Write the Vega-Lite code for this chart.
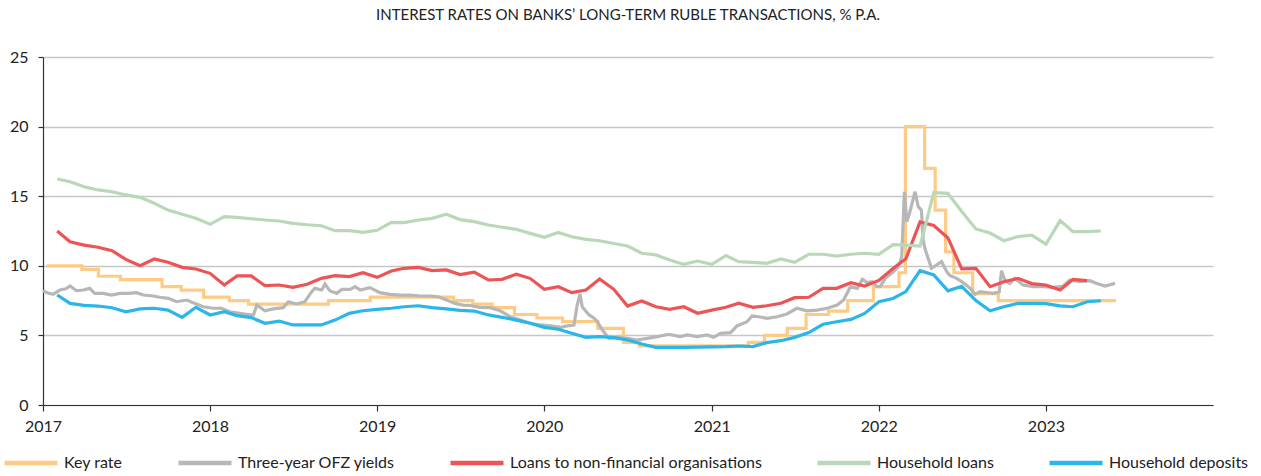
{
  "$schema": "https://vega.github.io/schema/vega-lite/v6.json",
  "autosize": {"type": "none"},
  "width": 1170,
  "height": 348,
  "padding": {"left": 43, "top": 57, "right": 48, "bottom": 71},
  "background": "white",
  "config": {
    "view": {"stroke": null},
    "font": "Lato",
    "axis": {"labelFont": "Lato", "labelColor": "#222222", "labelFontSize": 16, "domainColor": "#333333", "tickColor": "#333333", "domainWidth": 1.2, "tickWidth": 1.2},
    "legend": {"labelFont": "Lato", "labelFontSize": 16, "labelColor": "#222222", "labelLimit": 600}
  },
  "title": {"text": "INTEREST RATES ON BANKS’ LONG-TERM RUBLE TRANSACTIONS, % P.A.", "fontSize": 15, "fontWeight": "normal", "color": "#222222", "anchor": "middle", "offset": 26, "font": "Lato"},
  "datasets": {
    "key": [
      {"s": "Key rate", "d": "2017-01-09", "v": 10.0},
      {"s": "Key rate", "d": "2017-03-27", "v": 9.75},
      {"s": "Key rate", "d": "2017-05-02", "v": 9.25},
      {"s": "Key rate", "d": "2017-06-19", "v": 9.0},
      {"s": "Key rate", "d": "2017-09-18", "v": 8.5},
      {"s": "Key rate", "d": "2017-10-30", "v": 8.25},
      {"s": "Key rate", "d": "2017-12-18", "v": 7.75},
      {"s": "Key rate", "d": "2018-02-12", "v": 7.5},
      {"s": "Key rate", "d": "2018-03-26", "v": 7.25},
      {"s": "Key rate", "d": "2018-09-17", "v": 7.5},
      {"s": "Key rate", "d": "2018-12-17", "v": 7.75},
      {"s": "Key rate", "d": "2019-06-17", "v": 7.5},
      {"s": "Key rate", "d": "2019-07-29", "v": 7.25},
      {"s": "Key rate", "d": "2019-09-09", "v": 7.0},
      {"s": "Key rate", "d": "2019-10-28", "v": 6.5},
      {"s": "Key rate", "d": "2019-12-16", "v": 6.25},
      {"s": "Key rate", "d": "2020-02-10", "v": 6.0},
      {"s": "Key rate", "d": "2020-04-27", "v": 5.5},
      {"s": "Key rate", "d": "2020-06-22", "v": 4.5},
      {"s": "Key rate", "d": "2020-07-27", "v": 4.25},
      {"s": "Key rate", "d": "2021-03-22", "v": 4.5},
      {"s": "Key rate", "d": "2021-04-26", "v": 5.0},
      {"s": "Key rate", "d": "2021-06-15", "v": 5.5},
      {"s": "Key rate", "d": "2021-07-26", "v": 6.5},
      {"s": "Key rate", "d": "2021-09-13", "v": 6.75},
      {"s": "Key rate", "d": "2021-10-25", "v": 7.5},
      {"s": "Key rate", "d": "2021-12-20", "v": 8.5},
      {"s": "Key rate", "d": "2022-02-14", "v": 9.5},
      {"s": "Key rate", "d": "2022-02-28", "v": 20.0},
      {"s": "Key rate", "d": "2022-04-11", "v": 17.0},
      {"s": "Key rate", "d": "2022-05-04", "v": 14.0},
      {"s": "Key rate", "d": "2022-05-27", "v": 11.0},
      {"s": "Key rate", "d": "2022-06-14", "v": 9.5},
      {"s": "Key rate", "d": "2022-07-25", "v": 8.0},
      {"s": "Key rate", "d": "2022-09-19", "v": 7.5},
      {"s": "Key rate", "d": "2023-06-03", "v": 7.5}
    ],
    "ofz": [
      {"s": "Three-year OFZ yields", "d": "2017-01-01", "v": 8.19},
      {"s": "Three-year OFZ yields", "d": "2017-01-12", "v": 8.05},
      {"s": "Three-year OFZ yields", "d": "2017-01-23", "v": 7.95},
      {"s": "Three-year OFZ yields", "d": "2017-02-07", "v": 8.26},
      {"s": "Three-year OFZ yields", "d": "2017-02-20", "v": 8.35},
      {"s": "Three-year OFZ yields", "d": "2017-03-01", "v": 8.55},
      {"s": "Three-year OFZ yields", "d": "2017-03-15", "v": 8.21},
      {"s": "Three-year OFZ yields", "d": "2017-03-30", "v": 8.26},
      {"s": "Three-year OFZ yields", "d": "2017-04-13", "v": 8.38},
      {"s": "Three-year OFZ yields", "d": "2017-04-24", "v": 8.02},
      {"s": "Three-year OFZ yields", "d": "2017-05-12", "v": 8.02},
      {"s": "Three-year OFZ yields", "d": "2017-05-31", "v": 7.9},
      {"s": "Three-year OFZ yields", "d": "2017-06-18", "v": 8.02},
      {"s": "Three-year OFZ yields", "d": "2017-07-06", "v": 8.02},
      {"s": "Three-year OFZ yields", "d": "2017-07-24", "v": 8.07},
      {"s": "Three-year OFZ yields", "d": "2017-08-08", "v": 7.9},
      {"s": "Three-year OFZ yields", "d": "2017-08-30", "v": 7.83},
      {"s": "Three-year OFZ yields", "d": "2017-09-13", "v": 7.74},
      {"s": "Three-year OFZ yields", "d": "2017-10-02", "v": 7.66},
      {"s": "Three-year OFZ yields", "d": "2017-10-20", "v": 7.42},
      {"s": "Three-year OFZ yields", "d": "2017-11-11", "v": 7.54},
      {"s": "Three-year OFZ yields", "d": "2017-11-25", "v": 7.35},
      {"s": "Three-year OFZ yields", "d": "2017-12-17", "v": 7.06},
      {"s": "Three-year OFZ yields", "d": "2018-01-08", "v": 6.95},
      {"s": "Three-year OFZ yields", "d": "2018-01-26", "v": 6.95},
      {"s": "Three-year OFZ yields", "d": "2018-02-13", "v": 6.7},
      {"s": "Three-year OFZ yields", "d": "2018-03-07", "v": 6.58},
      {"s": "Three-year OFZ yields", "d": "2018-03-29", "v": 6.47},
      {"s": "Three-year OFZ yields", "d": "2018-04-06", "v": 6.47},
      {"s": "Three-year OFZ yields", "d": "2018-04-13", "v": 7.18},
      {"s": "Three-year OFZ yields", "d": "2018-05-01", "v": 6.77},
      {"s": "Three-year OFZ yields", "d": "2018-05-19", "v": 6.9},
      {"s": "Three-year OFZ yields", "d": "2018-06-10", "v": 6.99},
      {"s": "Three-year OFZ yields", "d": "2018-06-21", "v": 7.42},
      {"s": "Three-year OFZ yields", "d": "2018-07-09", "v": 7.26},
      {"s": "Three-year OFZ yields", "d": "2018-07-27", "v": 7.42},
      {"s": "Three-year OFZ yields", "d": "2018-08-11", "v": 8.14},
      {"s": "Three-year OFZ yields", "d": "2018-08-18", "v": 8.38},
      {"s": "Three-year OFZ yields", "d": "2018-09-02", "v": 8.26},
      {"s": "Three-year OFZ yields", "d": "2018-09-09", "v": 8.69},
      {"s": "Three-year OFZ yields", "d": "2018-09-20", "v": 8.19},
      {"s": "Three-year OFZ yields", "d": "2018-10-05", "v": 8.02},
      {"s": "Three-year OFZ yields", "d": "2018-10-16", "v": 8.31},
      {"s": "Three-year OFZ yields", "d": "2018-11-03", "v": 8.31},
      {"s": "Three-year OFZ yields", "d": "2018-11-14", "v": 8.5},
      {"s": "Three-year OFZ yields", "d": "2018-11-25", "v": 8.26},
      {"s": "Three-year OFZ yields", "d": "2018-12-16", "v": 8.43},
      {"s": "Three-year OFZ yields", "d": "2019-01-07", "v": 8.07},
      {"s": "Three-year OFZ yields", "d": "2019-01-29", "v": 7.95},
      {"s": "Three-year OFZ yields", "d": "2019-02-20", "v": 7.9},
      {"s": "Three-year OFZ yields", "d": "2019-03-14", "v": 7.9},
      {"s": "Three-year OFZ yields", "d": "2019-04-05", "v": 7.83},
      {"s": "Three-year OFZ yields", "d": "2019-04-27", "v": 7.83},
      {"s": "Three-year OFZ yields", "d": "2019-05-15", "v": 7.78},
      {"s": "Three-year OFZ yields", "d": "2019-06-02", "v": 7.54},
      {"s": "Three-year OFZ yields", "d": "2019-06-20", "v": 7.3},
      {"s": "Three-year OFZ yields", "d": "2019-07-08", "v": 7.18},
      {"s": "Three-year OFZ yields", "d": "2019-07-23", "v": 7.15},
      {"s": "Three-year OFZ yields", "d": "2019-08-14", "v": 7.02},
      {"s": "Three-year OFZ yields", "d": "2019-09-05", "v": 6.99},
      {"s": "Three-year OFZ yields", "d": "2019-09-27", "v": 6.77},
      {"s": "Three-year OFZ yields", "d": "2019-10-19", "v": 6.34},
      {"s": "Three-year OFZ yields", "d": "2019-11-10", "v": 6.1},
      {"s": "Three-year OFZ yields", "d": "2019-12-02", "v": 5.87},
      {"s": "Three-year OFZ yields", "d": "2019-12-24", "v": 5.75},
      {"s": "Three-year OFZ yields", "d": "2020-01-15", "v": 5.68},
      {"s": "Three-year OFZ yields", "d": "2020-02-06", "v": 5.58},
      {"s": "Three-year OFZ yields", "d": "2020-02-20", "v": 5.68},
      {"s": "Three-year OFZ yields", "d": "2020-03-06", "v": 5.75},
      {"s": "Three-year OFZ yields", "d": "2020-03-13", "v": 7.18},
      {"s": "Three-year OFZ yields", "d": "2020-03-19", "v": 7.97},
      {"s": "Three-year OFZ yields", "d": "2020-03-24", "v": 7.06},
      {"s": "Three-year OFZ yields", "d": "2020-04-08", "v": 6.47},
      {"s": "Three-year OFZ yields", "d": "2020-04-19", "v": 6.23},
      {"s": "Three-year OFZ yields", "d": "2020-04-26", "v": 5.98},
      {"s": "Three-year OFZ yields", "d": "2020-05-07", "v": 5.39},
      {"s": "Three-year OFZ yields", "d": "2020-05-21", "v": 4.79},
      {"s": "Three-year OFZ yields", "d": "2020-06-09", "v": 4.86},
      {"s": "Three-year OFZ yields", "d": "2020-07-01", "v": 4.79},
      {"s": "Three-year OFZ yields", "d": "2020-07-22", "v": 4.67},
      {"s": "Three-year OFZ yields", "d": "2020-08-13", "v": 4.79},
      {"s": "Three-year OFZ yields", "d": "2020-09-04", "v": 4.91},
      {"s": "Three-year OFZ yields", "d": "2020-09-29", "v": 5.08},
      {"s": "Three-year OFZ yields", "d": "2020-10-24", "v": 4.91},
      {"s": "Three-year OFZ yields", "d": "2020-11-08", "v": 5.03},
      {"s": "Three-year OFZ yields", "d": "2020-11-30", "v": 4.91},
      {"s": "Three-year OFZ yields", "d": "2020-12-22", "v": 5.03},
      {"s": "Three-year OFZ yields", "d": "2021-01-05", "v": 4.86},
      {"s": "Three-year OFZ yields", "d": "2021-01-20", "v": 5.15},
      {"s": "Three-year OFZ yields", "d": "2021-02-11", "v": 5.2},
      {"s": "Three-year OFZ yields", "d": "2021-02-25", "v": 5.68},
      {"s": "Three-year OFZ yields", "d": "2021-03-19", "v": 5.98},
      {"s": "Three-year OFZ yields", "d": "2021-03-30", "v": 6.39},
      {"s": "Three-year OFZ yields", "d": "2021-04-13", "v": 6.34},
      {"s": "Three-year OFZ yields", "d": "2021-05-02", "v": 6.23},
      {"s": "Three-year OFZ yields", "d": "2021-05-24", "v": 6.34},
      {"s": "Three-year OFZ yields", "d": "2021-06-14", "v": 6.54},
      {"s": "Three-year OFZ yields", "d": "2021-07-06", "v": 6.95},
      {"s": "Three-year OFZ yields", "d": "2021-07-28", "v": 6.77},
      {"s": "Three-year OFZ yields", "d": "2021-08-19", "v": 6.82},
      {"s": "Three-year OFZ yields", "d": "2021-09-10", "v": 6.95},
      {"s": "Three-year OFZ yields", "d": "2021-10-02", "v": 7.18},
      {"s": "Three-year OFZ yields", "d": "2021-10-16", "v": 7.54},
      {"s": "Three-year OFZ yields", "d": "2021-10-31", "v": 8.5},
      {"s": "Three-year OFZ yields", "d": "2021-11-15", "v": 8.38},
      {"s": "Three-year OFZ yields", "d": "2021-11-26", "v": 9.03},
      {"s": "Three-year OFZ yields", "d": "2021-12-06", "v": 8.79},
      {"s": "Three-year OFZ yields", "d": "2021-12-17", "v": 8.86},
      {"s": "Three-year OFZ yields", "d": "2021-12-28", "v": 8.5},
      {"s": "Three-year OFZ yields", "d": "2022-01-04", "v": 8.5},
      {"s": "Three-year OFZ yields", "d": "2022-01-15", "v": 9.1},
      {"s": "Three-year OFZ yields", "d": "2022-02-02", "v": 9.58},
      {"s": "Three-year OFZ yields", "d": "2022-02-13", "v": 9.94},
      {"s": "Three-year OFZ yields", "d": "2022-02-20", "v": 10.66},
      {"s": "Three-year OFZ yields", "d": "2022-02-24", "v": 13.89},
      {"s": "Three-year OFZ yields", "d": "2022-02-26", "v": 15.32},
      {"s": "Three-year OFZ yields", "d": "2022-03-03", "v": 13.17},
      {"s": "Three-year OFZ yields", "d": "2022-03-10", "v": 13.89},
      {"s": "Three-year OFZ yields", "d": "2022-03-21", "v": 15.32},
      {"s": "Three-year OFZ yields", "d": "2022-03-28", "v": 14.25},
      {"s": "Three-year OFZ yields", "d": "2022-04-04", "v": 14.0},
      {"s": "Three-year OFZ yields", "d": "2022-04-08", "v": 11.8},
      {"s": "Three-year OFZ yields", "d": "2022-04-12", "v": 11.2},
      {"s": "Three-year OFZ yields", "d": "2022-04-19", "v": 10.5},
      {"s": "Three-year OFZ yields", "d": "2022-04-26", "v": 9.82},
      {"s": "Three-year OFZ yields", "d": "2022-05-07", "v": 10.06},
      {"s": "Three-year OFZ yields", "d": "2022-05-18", "v": 10.3},
      {"s": "Three-year OFZ yields", "d": "2022-05-29", "v": 9.6},
      {"s": "Three-year OFZ yields", "d": "2022-06-05", "v": 9.3},
      {"s": "Three-year OFZ yields", "d": "2022-06-20", "v": 9.1},
      {"s": "Three-year OFZ yields", "d": "2022-07-04", "v": 8.8},
      {"s": "Three-year OFZ yields", "d": "2022-07-19", "v": 8.4},
      {"s": "Three-year OFZ yields", "d": "2022-07-30", "v": 7.95},
      {"s": "Three-year OFZ yields", "d": "2022-08-10", "v": 8.14},
      {"s": "Three-year OFZ yields", "d": "2022-08-25", "v": 8.08},
      {"s": "Three-year OFZ yields", "d": "2022-09-08", "v": 8.02},
      {"s": "Three-year OFZ yields", "d": "2022-09-21", "v": 8.14},
      {"s": "Three-year OFZ yields", "d": "2022-09-26", "v": 9.65},
      {"s": "Three-year OFZ yields", "d": "2022-10-03", "v": 8.98},
      {"s": "Three-year OFZ yields", "d": "2022-10-14", "v": 8.74},
      {"s": "Three-year OFZ yields", "d": "2022-10-25", "v": 9.1},
      {"s": "Three-year OFZ yields", "d": "2022-11-12", "v": 8.62},
      {"s": "Three-year OFZ yields", "d": "2022-12-04", "v": 8.5},
      {"s": "Three-year OFZ yields", "d": "2022-12-26", "v": 8.5},
      {"s": "Three-year OFZ yields", "d": "2023-01-17", "v": 8.45},
      {"s": "Three-year OFZ yields", "d": "2023-02-08", "v": 8.55},
      {"s": "Three-year OFZ yields", "d": "2023-02-22", "v": 8.98},
      {"s": "Three-year OFZ yields", "d": "2023-03-16", "v": 8.86},
      {"s": "Three-year OFZ yields", "d": "2023-04-07", "v": 8.93},
      {"s": "Three-year OFZ yields", "d": "2023-04-21", "v": 8.74},
      {"s": "Three-year OFZ yields", "d": "2023-05-10", "v": 8.55},
      {"s": "Three-year OFZ yields", "d": "2023-06-01", "v": 8.74}
    ],
    "monthly": [
      {"m": "2017-02-01", "a": 12.5, "b": 16.24, "c": 7.9},
      {"m": "2017-03-01", "a": 11.73, "b": 16.04, "c": 7.3},
      {"m": "2017-04-01", "a": 11.49, "b": 15.68, "c": 7.16},
      {"m": "2017-05-01", "a": 11.33, "b": 15.45, "c": 7.11},
      {"m": "2017-06-01", "a": 11.08, "b": 15.32, "c": 6.99},
      {"m": "2017-07-01", "a": 10.46, "b": 15.09, "c": 6.7},
      {"m": "2017-08-01", "a": 10.0, "b": 14.92, "c": 6.9},
      {"m": "2017-09-01", "a": 10.49, "b": 14.49, "c": 6.95},
      {"m": "2017-10-01", "a": 10.25, "b": 14.0, "c": 6.82},
      {"m": "2017-11-01", "a": 9.89, "b": 13.7, "c": 6.3},
      {"m": "2017-12-01", "a": 9.77, "b": 13.41, "c": 7.02},
      {"m": "2018-01-01", "a": 9.46, "b": 12.98, "c": 6.47},
      {"m": "2018-02-01", "a": 8.62, "b": 13.53, "c": 6.7},
      {"m": "2018-03-01", "a": 9.27, "b": 13.48, "c": 6.42},
      {"m": "2018-04-01", "a": 9.27, "b": 13.38, "c": 6.28},
      {"m": "2018-05-01", "a": 8.57, "b": 13.29, "c": 5.87},
      {"m": "2018-06-01", "a": 8.62, "b": 13.22, "c": 6.03},
      {"m": "2018-07-01", "a": 8.45, "b": 13.05, "c": 5.75},
      {"m": "2018-08-01", "a": 8.67, "b": 12.95, "c": 5.75},
      {"m": "2018-09-01", "a": 9.1, "b": 12.88, "c": 5.75},
      {"m": "2018-10-01", "a": 9.29, "b": 12.52, "c": 6.1},
      {"m": "2018-11-01", "a": 9.22, "b": 12.52, "c": 6.58},
      {"m": "2018-12-01", "a": 9.5, "b": 12.4, "c": 6.77},
      {"m": "2019-01-01", "a": 9.17, "b": 12.55, "c": 6.87},
      {"m": "2019-02-01", "a": 9.63, "b": 13.12, "c": 6.95},
      {"m": "2019-03-01", "a": 9.82, "b": 13.1, "c": 7.06},
      {"m": "2019-04-01", "a": 9.89, "b": 13.29, "c": 7.13},
      {"m": "2019-05-01", "a": 9.65, "b": 13.41, "c": 6.99},
      {"m": "2019-06-01", "a": 9.7, "b": 13.7, "c": 6.9},
      {"m": "2019-07-01", "a": 9.37, "b": 13.32, "c": 6.8},
      {"m": "2019-08-01", "a": 9.55, "b": 13.17, "c": 6.75},
      {"m": "2019-09-01", "a": 8.98, "b": 12.93, "c": 6.47},
      {"m": "2019-10-01", "a": 9.03, "b": 12.77, "c": 6.3},
      {"m": "2019-11-01", "a": 9.39, "b": 12.62, "c": 6.1},
      {"m": "2019-12-01", "a": 9.1, "b": 12.33, "c": 5.87},
      {"m": "2020-01-01", "a": 8.31, "b": 12.05, "c": 5.58},
      {"m": "2020-02-01", "a": 8.5, "b": 12.4, "c": 5.44},
      {"m": "2020-03-01", "a": 8.07, "b": 12.09, "c": 5.15},
      {"m": "2020-04-01", "a": 8.26, "b": 11.9, "c": 4.86},
      {"m": "2020-05-01", "a": 9.05, "b": 11.8, "c": 4.91},
      {"m": "2020-06-01", "a": 8.31, "b": 11.6, "c": 4.84},
      {"m": "2020-07-01", "a": 7.11, "b": 11.42, "c": 4.67},
      {"m": "2020-08-01", "a": 7.47, "b": 10.9, "c": 4.38},
      {"m": "2020-09-01", "a": 7.06, "b": 10.78, "c": 4.14},
      {"m": "2020-10-01", "a": 6.87, "b": 10.42, "c": 4.14},
      {"m": "2020-11-01", "a": 7.06, "b": 10.1, "c": 4.14},
      {"m": "2020-12-01", "a": 6.59, "b": 10.34, "c": 4.16},
      {"m": "2021-01-01", "a": 6.82, "b": 10.1, "c": 4.18},
      {"m": "2021-02-01", "a": 7.02, "b": 10.73, "c": 4.2},
      {"m": "2021-03-01", "a": 7.31, "b": 10.3, "c": 4.24},
      {"m": "2021-04-01", "a": 7.02, "b": 10.25, "c": 4.2},
      {"m": "2021-05-01", "a": 7.13, "b": 10.18, "c": 4.48},
      {"m": "2021-06-01", "a": 7.31, "b": 10.49, "c": 4.62},
      {"m": "2021-07-01", "a": 7.71, "b": 10.25, "c": 4.86},
      {"m": "2021-08-01", "a": 7.74, "b": 10.83, "c": 5.2},
      {"m": "2021-09-01", "a": 8.38, "b": 10.83, "c": 5.8},
      {"m": "2021-10-01", "a": 8.38, "b": 10.7, "c": 5.98},
      {"m": "2021-11-01", "a": 8.79, "b": 10.83, "c": 6.15},
      {"m": "2021-12-01", "a": 8.55, "b": 10.9, "c": 6.58},
      {"m": "2022-01-01", "a": 8.95, "b": 10.83, "c": 7.42},
      {"m": "2022-02-01", "a": 9.8, "b": 11.52, "c": 7.65},
      {"m": "2022-03-01", "a": 10.5, "b": 11.48, "c": 8.15},
      {"m": "2022-04-01", "a": 13.15, "b": 11.42, "c": 9.65},
      {"m": "2022-05-01", "a": 12.9, "b": 15.25, "c": 9.35},
      {"m": "2022-06-01", "a": 12.0, "b": 15.2, "c": 8.2},
      {"m": "2022-07-01", "a": 9.78, "b": 13.9, "c": 8.53},
      {"m": "2022-08-01", "a": 9.82, "b": 12.65, "c": 7.5},
      {"m": "2022-09-01", "a": 8.5, "b": 12.35, "c": 6.77},
      {"m": "2022-10-01", "a": 8.86, "b": 11.8, "c": 7.06},
      {"m": "2022-11-01", "a": 9.1, "b": 12.1, "c": 7.3},
      {"m": "2022-12-01", "a": 8.72, "b": 12.2, "c": 7.3},
      {"m": "2023-01-01", "a": 8.61, "b": 11.55, "c": 7.28},
      {"m": "2023-02-01", "a": 8.26, "b": 13.25, "c": 7.12},
      {"m": "2023-03-01", "a": 9.02, "b": 12.45, "c": 7.06},
      {"m": "2023-04-01", "a": 8.94, "b": 12.45, "c": 7.42},
      {"m": "2023-05-01", "a": null, "b": 12.5, "c": 7.49}
    ]
  },
  "encoding": {
    "x": {"field": "d", "type": "temporal", "title": null,
      "scale": {"domain": ["2017-01-01T00:00:00", "2024-01-01T00:00:00"]},
      "axis": {"values": ["2017-01-01T00:00:00", "2018-01-01T00:00:00", "2019-01-01T00:00:00", "2020-01-01T00:00:00", "2021-01-01T00:00:00", "2022-01-01T00:00:00", "2023-01-01T00:00:00"], "format": "%Y", "grid": false, "tickSize": 6, "labelPadding": 7, "labelFlush": false}},
    "y": {"field": "v", "type": "quantitative", "title": null,
      "scale": {"domain": [0, 25], "nice": false},
      "axis": {"values": [0, 5, 10, 15, 20, 25], "grid": true, "gridColor": "#C6C6C6", "gridWidth": 1.5, "tickSize": 5, "labelPadding": 10}},
    "color": {"field": "s", "type": "nominal", "title": null,
      "scale": {"domain": ["Key rate", "Three-year OFZ yields", "Loans to non-financial organisations", "Household loans", "Household deposits"],
                "range": ["#FFCB84", "#B7B7B7", "#EC5456", "#B8D8B8", "#2AB6E9"]},
      "legend": {"orient": "none", "legendX": -41, "legendY": 377, "direction": "horizontal", "symbolType": "stroke", "symbolSize": 2809, "symbolStrokeWidth": 4.5, "columnPadding": 46, "labelOffset": 4}}
  },
  "layer": [
    {"data": {"name": "key"}, "mark": {"type": "line", "interpolate": "step-after", "strokeWidth": 3.2}},
    {"data": {"name": "ofz"}, "mark": {"type": "line", "strokeWidth": 3.2}},
    {"data": {"name": "monthly"},
     "transform": [{"filter": "datum.a != null"}, {"calculate": "'Loans to non-financial organisations'", "as": "s"}],
     "mark": {"type": "line", "strokeWidth": 3.2},
     "encoding": {"x": {"field": "m", "type": "temporal"}, "y": {"field": "a", "type": "quantitative"}}},
    {"data": {"name": "monthly"},
     "transform": [{"calculate": "'Household loans'", "as": "s"}],
     "mark": {"type": "line", "strokeWidth": 3.2},
     "encoding": {"x": {"field": "m", "type": "temporal"}, "y": {"field": "b", "type": "quantitative"}}},
    {"data": {"name": "monthly"},
     "transform": [{"calculate": "'Household deposits'", "as": "s"}],
     "mark": {"type": "line", "strokeWidth": 3.2},
     "encoding": {"x": {"field": "m", "type": "temporal"}, "y": {"field": "c", "type": "quantitative"}}}
  ]
}
